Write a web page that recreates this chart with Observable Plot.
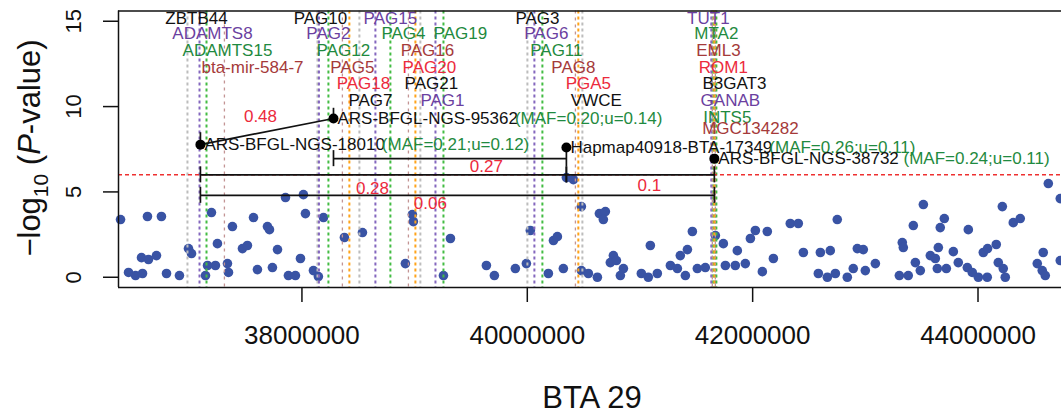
<!DOCTYPE html>
<html><head><meta charset="utf-8">
<script src="https://cdn.jsdelivr.net/npm/d3@7"></script>
<script src="https://cdn.jsdelivr.net/npm/@observablehq/plot@0.6"></script>
<style>
html,body{margin:0;padding:0;background:#fff;overflow:hidden;}
#chart{width:1061px;height:413px;}
</style></head><body><div id="chart"></div>
<script>
// ---- data ----
const xTicks = [38000000, 40000000, 42000000, 44000000];
const yTicks = [0, 5, 10, 15];
const threshold = 6;

const pointPos = [36390000,36629000,36753000,36461000,36523000,36585000,36576000,36638000,36709000,36798000,
36913000,36993000,37020000,37144000,37197000,37250000,37162000,37232000,37339000,37348000,
37383000,37472000,37516000,37570000,37605000,37694000,37712000,37783000,37738000,37854000,
37880000,37942000,37987000,38013000,38031000,38102000,38146000,38191000,38377000,38537000,
38918000,38980000,38989000,39256000,39318000,39637000,39708000,39894000,39992000,40027000,
40187000,40232000,40267000,40320000,40347000,40409000,40480000,40480000,40542000,40622000,
40640000,40693000,40675000,40764000,40737000,40791000,40853000,40826000,41012000,41074000,
41154000,41092000,41270000,41332000,41358000,41421000,41403000,41465000,41509000,41580000,
41669000,41740000,41758000,41846000,41935000,41864000,41980000,42024000,42130000,42086000,
42184000,42334000,42405000,42450000,42583000,42663000,42734000,42601000,42689000,42751000,
42840000,42893000,42929000,42982000,43000000,43089000,43302000,43381000,43328000,43337000,
43444000,43488000,43426000,43515000,43577000,43621000,43648000,43639000,43665000,43701000,
43719000,43781000,43825000,43905000,43914000,43949000,44003000,44082000,44047000,44085000,
44162000,44180000,44224000,44242000,44216000,44313000,44375000,44526000,44570000,44579000,
44597000,44624000,44730000,44730000];
const pointLogP = [3.38,3.56,3.56,0.28,0.1,0.22,1.15,1.04,1.27,0.22,
0.1,1.68,1.39,0.1,3.79,1.97,0.69,0.69,0.80,0.28,
2.97,1.68,1.86,3.50,0.45,2.97,2.79,1.62,0.57,4.67,
0.1,0.1,1.10,4.84,3.73,0.39,0.04,3.50,2.33,2.62,
0.80,3.67,3.26,0.1,2.27,0.69,0.1,0.51,0.80,2.74,
0.22,2.15,2.38,0.51,5.84,5.72,4.14,0.39,0.22,0.0,
3.73,3.85,3.38,1.27,0.86,0.98,0.51,0.1,0.22,0.0,
0.22,1.86,0.69,0.51,1.27,1.62,0.1,2.68,0.51,0.57,
2.44,1.97,0.69,0.69,0.80,1.56,2.27,2.74,2.68,0.33,
1.10,3.15,3.15,1.45,0.22,0.0,0.22,1.45,1.56,3.38,
0.0,0.51,1.68,1.62,0.39,0.80,0.1,0.1,2.03,1.74,
0.86,0.39,3.03,4.26,1.27,1.10,1.74,0.51,2.91,3.44,
0.51,1.50,0.86,0.57,2.79,0.28,0.0,0.0,1.45,1.68,
1.92,0.86,0.51,0.0,4.14,3.20,3.44,0.80,0.39,1.45,
0.1,5.49,4.61,0.98];

const geneNames = ["ZBTB44","ADAMTS8","ADAMTS15","bta-mir-584-7",
  "PAG10","PAG2","PAG12","PAG5","PAG18","PAG7","PAG15","PAG4","PAG16","PAG20","PAG21","PAG1","PAG19",
  "PAG3","PAG6","PAG11","PAG8","PGA5","VWCE",
  "TUT1","MTA2","EML3","ROM1","B3GAT3","GANAB","INTS5","MGC134282"];
const geneLinePos = [36984000,37091000,37153000,37312000,
  38138000,38151000,38235000,38359000,38421000,38510000,38652000,38785000,38945000,39007000,39051000,39185000,39256000,
  40001000,40063000,40134000,40427000,40453000,40489000,
  41633000,41651000,41642000,41660000,41642000,41669000,41678000,41669000];
const geneLabelPos = [37064000,37206000,37339000,37561000,
  38164000,38235000,38368000,38448000,38546000,38608000,38785000,38901000,39114000,39131000,39149000,39247000,39406000,
  40090000,40169000,40258000,40409000,40542000,40613000,
  41607000,41678000,41696000,41740000,41838000,41802000,41775000,41980000];
const geneLabelRow = [15.18,14.26,13.28,12.26,
  15.18,14.26,13.28,12.26,11.33,10.35,15.18,14.26,13.28,12.26,11.33,10.35,14.26,
  15.18,14.26,13.28,12.26,11.33,10.35,
  15.18,14.26,13.28,12.26,11.33,10.35,9.36,8.71];
// 0 black, 1 purple, 2 green, 3 brown, 4 red
const geneGroup = [0,1,2,3, 0,1,2,3,4,0,1,2,3,4,0,1,2, 0,1,2,3,4,0, 1,2,3,4,0,1,2,3];

const snpNames = ["ARS-BFGL-NGS-18010","ARS-BFGL-NGS-95362","Hapmap40918-BTA-17349","ARS-BFGL-NGS-38732"];
const snpMaf = ["(MAF=0.21;u=0.12)","(MAF=0.20;u=0.14)","(MAF=0.26;u=0.11)"," (MAF=0.24;u=0.11)"];
const snpPos = [37099000, 38280000, 40347000, 41660000];
const snpLogP = [7.77, 9.30, 7.60, 6.95];

const ldFrom = [0, 1, 0, 2, 0];
const ldTo = [1, 2, 2, 3, 3];
const ldR2 = ["0.48", "0.27", "0.28", "0.1", "0.06"];
const ldLevel = [null, 6.95, 6.0, 6.0, 4.8]; // null: link drawn point to point
const ldLabelPos = [37632000, 39637000, 38626000, 41083000, 39140000];
const ldLabelLogP = [9.41, 6.49, 5.20, 5.37, 4.32];

// ---- styles ----
const textColors = ["#111111", "#6B3FA0", "#1F8A40", "#A53A3A", "#EC2A3C"];
const lineColors = ["#BDBDBD", "#8467BE", "#43BC43", "#C39494", "#FFA31A"];
const FONT = "Liberation Sans, Arial, Helvetica, sans-serif";

const points = pointPos.map((p, i) => ({pos: p, v: pointLogP[i]}));
const genes = geneNames.map((n, i) => ({name: n, line: geneLinePos[i], label: geneLabelPos[i], row: geneLabelRow[i], g: geneGroup[i]}));
const snps = snpNames.map((n, i) => ({name: n, maf: snpMaf[i], pos: snpPos[i], v: snpLogP[i]}));
const lds = ldFrom.map((f, i) => ({a: snps[f], b: snps[ldTo[i]], level: ldLevel[i], r2: ldR2[i], lx: ldLabelPos[i], ly: ldLabelLogP[i]}));

const canvas = document.createElement("canvas");
const ctx = canvas.getContext("2d");
ctx.font = "17px 'Liberation Sans'";
const meas = s => ctx.measureText(s).width;

const CAP = 0.47;
const brackets = lds.filter(d => d.level != null);
const direct = lds.filter(d => d.level == null);
const caps = [];
brackets.forEach(d => {
  caps.push({x: d.a.pos, y1: d.level - CAP, y2: d.level + CAP});
  caps.push({x: d.b.pos, y1: d.level - CAP, y2: d.level + CAP});
});
direct.forEach(d => {
  caps.push({x: d.a.pos, y1: d.a.v, y2: d.a.v + 0.7});
  caps.push({x: d.b.pos, y1: d.b.v, y2: d.b.v + 0.6});
});

const marks = [];
marks.push(Plot.dot(points, {x: "pos", y: "v", r: 4.8, fill: "#3953A4"}));
for (let g = 0; g < 5; g++) {
  marks.push(Plot.ruleX(genes.filter(d => d.g === g), {
    x: "line", stroke: lineColors[g],
    strokeWidth: g === 3 ? 1.3 : 2, strokeDasharray: g === 3 ? "3,4" : "3,3"
  }));
}
marks.push(Plot.ruleY([threshold], {stroke: "#EE3030", strokeWidth: 1.5, strokeDasharray: "4,3"}));
marks.push(Plot.link(direct, {x1: d => d.a.pos, y1: d => d.a.v, x2: d => d.b.pos, y2: d => d.b.v, stroke: "#111", strokeWidth: 1.7}));
marks.push(Plot.link(brackets, {x1: d => d.a.pos, y1: "level", x2: d => d.b.pos, y2: "level", stroke: "#111", strokeWidth: 1.7}));
marks.push(Plot.ruleX(caps, {x: "x", y1: "y1", y2: "y2", stroke: "#111", strokeWidth: 1.7}));
marks.push(Plot.dot(snps, {x: "pos", y: "v", r: 5, fill: "#000"}));
for (let g = 0; g < 5; g++) {
  marks.push(Plot.text(genes.filter(d => d.g === g), {x: "label", y: "row", text: "name", fill: textColors[g], fontSize: 17}));
}
snps.forEach(s => {
  marks.push(Plot.text([s], {x: "pos", y: "v", text: "name", textAnchor: "start", dx: 4, fontSize: 17, fill: "#111"}));
  const lead = s.maf.startsWith(" ");
  const dx = 4 + meas(s.name) + (lead ? meas(" ") : -3);
  marks.push(Plot.text([s], {x: "pos", y: "v", text: d => d.maf.trim(), textAnchor: "start", dx, fontSize: 17, fill: "#1F8A40"}));
});
marks.push(Plot.text(lds, {x: "lx", y: "ly", text: "r2", fill: "#EC2A3C", fontSize: 17}));
// frame (top, bottom, left)
marks.push(Plot.ruleY([15.6, -0.6], {stroke: "#111", strokeWidth: 1.5}));
marks.push(Plot.ruleX([36372000], {stroke: "#111", strokeWidth: 1.5}));

const plot = Plot.plot({
  width: 1061, height: 413,
  marginLeft: 118, marginRight: 0, marginTop: 10.5, marginBottom: 126,
  x: {domain: [36372000, 44741000], ticks: xTicks, tickFormat: d => String(d), tickSize: 15, tickPadding: 23, label: null},
  y: {domain: [-0.6, 15.6], ticks: yTicks, tickSize: 15, tickPadding: 23, tickRotate: -90, label: null},
  style: {fontFamily: FONT, fontSize: "26px", background: "#fff", color: "#111", overflow: "visible"},
  marks
});
document.getElementById("chart").appendChild(plot);

const svg = d3.select(plot.tagName.toLowerCase() === "svg" ? plot : plot.querySelector("svg"));
svg.selectAll('[aria-label^="y-axis"] text').attr("font-size", 22);
svg.selectAll('[aria-label^="y-axis"] path, [aria-label^="x-axis"] path, [aria-label^="y-axis"] line, [aria-label^="x-axis"] line').attr("stroke-width", 1.5);

const yl = svg.append("text")
  .attr("transform", "translate(40,148) rotate(-90)")
  .attr("text-anchor", "middle")
  .attr("font-family", FONT).attr("font-size", 31).attr("fill", "#111")
  .style("white-space", "pre");
yl.append("tspan").text("\u2212log");
yl.append("tspan").attr("font-size", 21).attr("dy", 8).text("10");
yl.append("tspan").attr("dy", -8).text(" (");
yl.append("tspan").attr("font-style", "italic").text("P");
yl.append("tspan").text("-value)");

svg.append("text")
  .attr("x", 592).attr("y", 408)
  .attr("text-anchor", "middle")
  .attr("font-family", FONT).attr("font-size", 31).attr("fill", "#111")
  .text("BTA 29");
</script>
</body></html>
